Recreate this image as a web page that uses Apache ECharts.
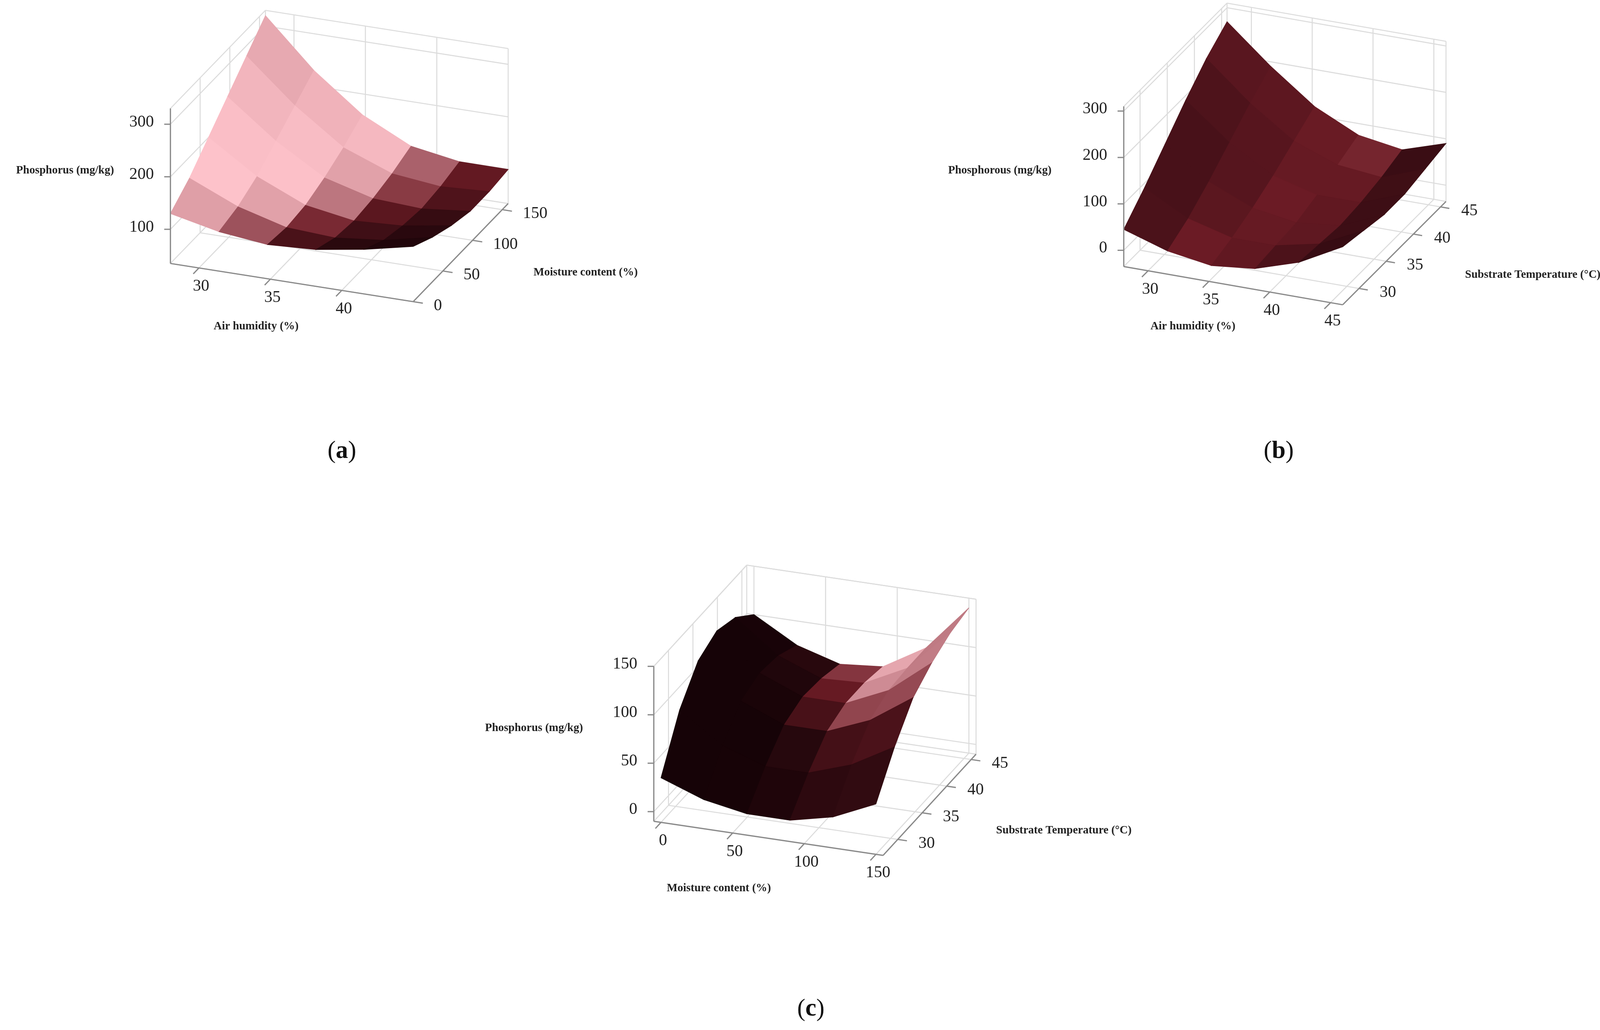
<!DOCTYPE html>
<html>
<head>
<meta charset="utf-8">
<script src="https://cdn.jsdelivr.net/npm/echarts@6/dist/echarts.min.js"></script>
<style>html,body{margin:0;padding:0;background:#fff}#main{width:4146px;height:2636px}</style>
</head>
<body>
<div id="main"></div>
<script>
// grid values (rows: second factor, columns: first factor)
var aX = [28, 31.4, 34.8, 38.2, 41.6, 45];
var aY = [0, 32, 64, 96, 128, 160];
var aZ = [
    [130, 110, 100, 105, 120, 140],
    [160, 120, 95, 90, 100, 120],
    [200, 140, 100, 85, 90, 105],
    [240, 170, 115, 90, 85, 95],
    [280, 200, 135, 100, 90, 95],
    [320, 230, 160, 115, 100, 100]
];
var bX = [28, 31.6, 35.2, 38.8, 42.4, 46];
var bY = [27, 30.8, 34.6, 38.4, 42.2, 46];
var bZ = [
    [45, 15, 0, 10, 40, 90],
    [90, 40, 15, 15, 35, 80],
    [140, 75, 35, 20, 30, 70],
    [190, 115, 60, 35, 35, 70],
    [235, 155, 90, 55, 45, 80],
    [270, 190, 120, 75, 60, 90]
];
var cX = [0, 30, 60, 90, 120, 150];
var cY = [27, 30.8, 34.6, 38.4, 42.2, 46];
var cZ = [
    [36, 20, 12, 12, 22, 42],
    [85, 55, 40, 40, 55, 80],
    [115, 80, 62, 62, 80, 110],
    [125, 88, 70, 70, 90, 125],
    [118, 85, 68, 70, 92, 135],
    [100, 75, 62, 66, 92, 140]
];
var aTicks = {x: [30, 35, 40], y: [0, 50, 100, 150], z: [100, 200, 300]};
var bTicks = {x: [30, 35, 40, 45], y: [30, 35, 40, 45], z: [0, 100, 200, 300]};
var cTicks = {x: [0, 50, 100, 150], y: [30, 35, 40, 45], z: [0, 50, 100, 150]};

// view settings per panel (layout only)
var panels = [
    {xs: aX, ys: aY, zs: aZ, t: aTicks, o: [165, 255], ex: [235, 37], ey: [92, -95], ez: [0, -150],
     xr: [28, 45], yr: [0, 160], zr: [35, 330], light: [0.55, -0.45, 0.7],
     zt: ['Phosphorus (mg/kg)', 63, 165], xt: ['Air humidity (%)', 248, 316], yt: ['Moisture content (%)', 567, 264],
     cap: ['a', 331, 437]},
    {xs: bX, ys: bY, zs: bZ, t: bTicks, o: [1088, 258], ex: [212, 37], ey: [100, -100], ez: [0, -155],
     xr: [28, 46], yr: [27, 46], zr: [-35, 310], light: [0.35, 0.35, 0.85],
     zt: ['Phosphorous (mg/kg)', 968, 165], xt: ['Air humidity (%)', 1155, 316], yt: ['Substrate Temperature (°C)', 1484, 266],
     cap: ['b', 1238, 437]},
    {xs: cX, ys: cY, zs: cZ, t: cTicks, o: [633, 795], ex: [222, 33], ey: [90, -98], ez: [0, -150],
     xr: [-5, 155], yr: [27, 46], zr: [-10, 150], light: [-0.6, 0.35, 0.7],
     zt: ['Phosphorus (mg/kg)', 517, 705], xt: ['Moisture content (%)', 696, 860], yt: ['Substrate Temperature (°C)', 1030, 804],
     cap: ['c', 785, 977]}
];

function norm(p, x, y, z) {
    return [(x - p.xr[0]) / (p.xr[1] - p.xr[0]), (y - p.yr[0]) / (p.yr[1] - p.yr[0]), (z - p.zr[0]) / (p.zr[1] - p.zr[0])];
}
function proj(p, x, y, z) {
    var n = norm(p, x, y, z);
    return [p.o[0] + n[0] * p.ex[0] + n[1] * p.ey[0] + n[2] * p.ez[0],
            p.o[1] + n[0] * p.ex[1] + n[1] * p.ey[1] + n[2] * p.ez[1]];
}
function mix(a, b, t) { return [a[0] + (b[0] - a[0]) * t, a[1] + (b[1] - a[1]) * t, a[2] + (b[2] - a[2]) * t]; }
function shade(p, q) {
    var a = norm(p, q[0][0], q[0][1], q[0][2]), b = norm(p, q[1][0], q[1][1], q[1][2]),
        d = norm(p, q[3][0], q[3][1], q[3][2]);
    var u = [b[0] - a[0], b[1] - a[1], b[2] - a[2]], v = [d[0] - a[0], d[1] - a[1], d[2] - a[2]];
    var n = [u[1] * v[2] - u[2] * v[1], u[2] * v[0] - u[0] * v[2], u[0] * v[1] - u[1] * v[0]];
    var l = Math.sqrt(n[0] * n[0] + n[1] * n[1] + n[2] * n[2]) || 1;
    n = [n[0] / l, n[1] / l, n[2] / l];
    if (n[2] < 0) n = [-n[0], -n[1], -n[2]];
    var L = p.light, s = Math.sqrt(L[0] * L[0] + L[1] * L[1] + L[2] * L[2]);
    var t = Math.max(0, (n[0] * L[0] + n[1] * L[1] + n[2] * L[2]) / s);
    t = Math.pow(t, 2.5);
    var c = t < 0.5 ? mix([22, 3, 7], [110, 28, 38], t / 0.5) : mix([110, 28, 38], [255, 196, 204], (t - 0.5) / 0.5);
    return 'rgb(' + Math.round(c[0]) + ',' + Math.round(c[1]) + ',' + Math.round(c[2]) + ')';
}

function buildPanel(p) {
    var els = [];
    var grid = '#dcdcdc', ax = '#8a8a8a', font = '"Liberation Serif", "DejaVu Serif", serif';
    var x0 = p.xr[0], x1 = p.xr[1], y0 = p.yr[0], y1 = p.yr[1], z0 = p.zr[0], z1 = p.zr[1];
    function line(a, b, c, w) { els.push({k: 'line', a: a, b: b, c: c, w: w || 1}); }
    line(proj(p, x0, y1, z0), proj(p, x0, y1, z1), grid);
    line(proj(p, x1, y1, z0), proj(p, x1, y1, z1), grid);
    line(proj(p, x0, y1, z1), proj(p, x1, y1, z1), grid);
    line(proj(p, x0, y0, z1), proj(p, x0, y1, z1), grid);
    line(proj(p, x0, y0, z0), proj(p, x0, y1, z0), grid);
    line(proj(p, x0, y1, z0), proj(p, x1, y1, z0), grid);
    p.t.x.forEach(function (v) {
        line(proj(p, v, y0, z0), proj(p, v, y1, z0), grid);
        line(proj(p, v, y1, z0), proj(p, v, y1, z1), grid);
    });
    p.t.y.forEach(function (v) {
        line(proj(p, x0, v, z0), proj(p, x1, v, z0), grid);
        line(proj(p, x0, v, z0), proj(p, x0, v, z1), grid);
    });
    p.t.z.forEach(function (v) {
        line(proj(p, x0, y0, v), proj(p, x0, y1, v), grid);
        line(proj(p, x0, y1, v), proj(p, x1, y1, v), grid);
    });
    var quads = [];
    for (var j = 0; j < p.ys.length - 1; j++) {
        for (var i = 0; i < p.xs.length - 1; i++) {
            var q = [[p.xs[i], p.ys[j], p.zs[j][i]], [p.xs[i + 1], p.ys[j], p.zs[j][i + 1]],
                     [p.xs[i + 1], p.ys[j + 1], p.zs[j + 1][i + 1]], [p.xs[i], p.ys[j + 1], p.zs[j + 1][i]]];
            var n = norm(p, (p.xs[i] + p.xs[i + 1]) / 2, (p.ys[j] + p.ys[j + 1]) / 2, 0);
            quads.push({d: n[1] - 0.4 * n[0], q: q});
        }
    }
    quads.sort(function (a, b) { return b.d - a.d; });
    quads.forEach(function (o) {
        els.push({k: 'poly', pts: o.q.map(function (c) { return proj(p, c[0], c[1], c[2]); }), c: shade(p, o.q)});
    });
    line(proj(p, x0, y0, z0), proj(p, x1, y0, z0), ax, 1.2);
    line(proj(p, x1, y0, z0), proj(p, x1, y1, z0), ax, 1.2);
    line(proj(p, x0, y0, z0), proj(p, x0, y0, z1), ax, 1.2);
    var ux = [p.ey[0] * -0.06, p.ey[1] * -0.06], uy = [p.ex[0] * 0.04, p.ex[1] * 0.04];
    p.t.x.forEach(function (v) {
        var a = proj(p, v, y0, z0);
        line(a, [a[0] + ux[0], a[1] + ux[1]], ax, 1.2);
        els.push({k: 'text', p: [a[0] + 2, a[1] + 18], s: String(v), f: font, size: 16, al: 'center'});
    });
    p.t.y.forEach(function (v) {
        var a = proj(p, x1, v, z0);
        line(a, [a[0] + uy[0], a[1] + uy[1]], ax, 1.2);
        els.push({k: 'text', p: [a[0] + 20, a[1] + 4], s: String(v), f: font, size: 16, al: 'left'});
    });
    p.t.z.forEach(function (v) {
        var a = proj(p, x0, y0, v);
        line(a, [a[0] - 6, a[1]], ax, 1.2);
        els.push({k: 'text', p: [a[0] - 16, a[1] - 2], s: String(v), f: font, size: 16, al: 'right'});
    });
    [p.zt, p.xt, p.yt].forEach(function (t) {
        els.push({k: 'text', p: [t[1], t[2]], s: t[0], f: font, size: 11, al: 'center', bold: true});
    });
    els.push({k: 'cap', p: [p.cap[1], p.cap[2]], s: p.cap[0], f: font});
    return els;
}

var elements = [];
panels.forEach(function (p) { elements = elements.concat(buildPanel(p)); });
var S = 4146 / 1568;

var chart = echarts.init(document.getElementById('main'));
chart.setOption({
    animation: false,
    grid: {left: 0, right: 0, top: 0, bottom: 0},
    xAxis: {type: 'value', min: 0, max: 1568, show: false},
    yAxis: {type: 'value', min: 0, max: 997, inverse: true, show: false},
    series: [{
        type: 'custom',
        coordinateSystem: 'cartesian2d',
        clip: false,
        data: elements.map(function (e, i) { return [i]; }),
        renderItem: function (params, api) {
            var e = elements[api.value(0)];
            if (e.k === 'line') {
                var a = api.coord(e.a), b = api.coord(e.b);
                return {type: 'line', shape: {x1: a[0], y1: a[1], x2: b[0], y2: b[1]},
                        style: {stroke: e.c, lineWidth: e.w * S}};
            }
            if (e.k === 'poly') {
                return {type: 'polygon', shape: {points: e.pts.map(function (pt) { return api.coord(pt); })},
                        style: {fill: e.c, stroke: e.c, lineWidth: 1.5}};
            }
            var c = api.coord(e.p);
            if (e.k === 'cap') {
                return {type: 'text', x: c[0], y: c[1], style: {
                    text: '(' + '{b|' + e.s + '})', fill: '#111', font: Math.round(24 * S) + 'px ' + e.f,
                    align: 'center', verticalAlign: 'middle',
                    rich: {b: {fontWeight: 'bold', fontSize: Math.round(24 * S), fontFamily: e.f, fill: '#111'}}}};
            }
            return {type: 'text', x: c[0], y: c[1], style: {
                text: e.s, fill: '#222', align: e.al, verticalAlign: 'middle',
                font: (e.bold ? 'bold ' : '') + Math.round(e.size * S) + 'px ' + e.f}};
        }
    }]
});
</script>
</body>
</html>
